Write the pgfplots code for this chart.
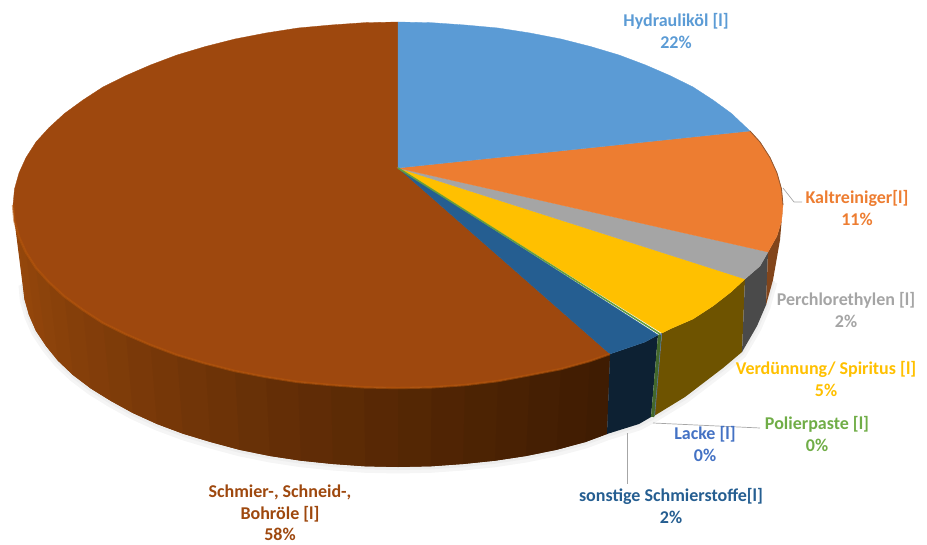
\documentclass[border=0pt]{standalone}
\usepackage{fontspec}
\setmainfont{Carlito}
\usepackage{pgfplots}
\pgfplotsset{compat=1.18}
\usepackage{pgfplotstable}

\definecolor{cblue}{HTML}{5B9BD5}
\definecolor{corange}{HTML}{ED7D31}
\definecolor{cgray}{HTML}{A5A5A5}
\definecolor{cyellow}{HTML}{FFC000}
\definecolor{cgreen}{HTML}{70AD47}
\definecolor{clacke}{HTML}{4472C4}
\definecolor{cdblue}{HTML}{255E91}
\definecolor{cbrown}{HTML}{9E480E}
\definecolor{rimdark}{HTML}{3F1C02}
\definecolor{rimlight}{HTML}{97480C}
\definecolor{leader}{HTML}{A6A6A6}

% rim piece: top and bottom points, painted left to right so each one overlaps the one before
\newcommand{\rimq}[7]{\addplot[fill=rimlight!#7!rimdark,draw=none] coordinates {(#1)(#2)(#3)(#5)(#6)(#4)} --cycle;}
\newcommand{\lab}[3]{\node[font=\fontsize{18}{21.5}\selectfont\bfseries,text=#1,align=center] at (axis cs:#2) {#3};}

% lower edge of the pie, for the shadow
\pgfplotstableread{
x y
23 283
24.4 299
29 315
35.8 330.6
46 346
58 360.8
73 375
90.8 388.5
111 401
132.8 413
157 424
183 433.7
210.5 442
239.5 449.8
270 456
301 460.7
333 464
365.3 466.3
398 467
430.7 466.3
463 464
495 460.7
526 456
556.5 449.8
585.5 442
607 434
639 424
654 416
685 397
723 368
742 352
757 326
766 305
773 280
}\lowedge

\begin{document}
\begin{tikzpicture}
\begin{axis}[
    scale only axis,
    width=927pt, height=545pt,
    xmin=0, xmax=927,
    ymin=0, ymax=545,
    y dir=reverse,
    hide axis,
    clip=false,
]
\path[use as bounding box] (axis cs:0,0) rectangle (axis cs:927,545);

% shadow
\addplot[draw=black!4,line width=9pt,forget plot] table[x=x,y expr=\thisrow{y}+2] {\lowedge};
\addplot[draw=black!7,line width=4pt,forget plot] table[x=x,y expr=\thisrow{y}+1] {\lowedge};

% rim of the brown piece
\rimq{13,205}{23,283}{24.4,299}{14.5,221}{29,315}{19,237}{100}
\rimq{14.5,221}{24.4,299}{29,315}{19,237}{35.8,330.6}{26,252.4}{98}
\rimq{19,237}{29,315}{35.8,330.6}{26,252.4}{46,346}{36,268}{95}
\rimq{26,252.4}{35.8,330.6}{46,346}{36,268}{58,360.8}{49,282.3}{92}
\rimq{36,268}{46,346}{58,360.8}{49,282.3}{73,375}{64.5,296.5}{88}
\rimq{49,282.3}{58,360.8}{73,375}{64.5,296.5}{90.8,388.5}{83,310}{84}
\rimq{64.5,296.5}{73,375}{90.8,388.5}{83,310}{111,401}{103,323}{80}
\rimq{83,310}{90.8,388.5}{111,401}{103,323}{132.8,413}{126,334.4}{76}
\rimq{103,323}{111,401}{132.8,413}{126,334.4}{157,424}{150.5,345}{72}
\rimq{126,334.4}{132.8,413}{157,424}{150.5,345}{183,433.7}{177,355}{67}
\rimq{150.5,345}{157,424}{183,433.7}{177,355}{210.5,442}{205.5,363.5}{62}
\rimq{177,355}{183,433.7}{210.5,442}{205.5,363.5}{239.5,449.8}{235,371}{57}
\rimq{205.5,363.5}{210.5,442}{239.5,449.8}{235,371}{270,456}{266,377}{52}
\rimq{235,371}{239.5,449.8}{270,456}{266,377}{301,460.7}{298,382}{47}
\rimq{266,377}{270,456}{301,460.7}{298,382}{333,464}{331,385}{42}
\rimq{298,382}{301,460.7}{333,464}{331,385}{365.3,466.3}{364,387.3}{37}
\rimq{331,385}{333,464}{365.3,466.3}{364,387.3}{398,467}{398,388}{33}
\rimq{364,387.3}{365.3,466.3}{398,467}{398,388}{430.7,466.3}{431.6,387.3}{28}
\rimq{398,388}{398,467}{430.7,466.3}{431.6,387.3}{463,464}{465,385}{24}
\rimq{431.6,387.3}{430.7,466.3}{463,464}{465,385}{495,460.7}{498,381}{19}
\rimq{465,385}{463,464}{495,460.7}{498,381}{526,456}{530,375}{15}
\rimq{498,381}{495,460.7}{526,456}{530,375}{556.5,449.8}{561,369}{11}
\rimq{530,375}{526,456}{556.5,449.8}{561,369}{585.5,442}{590,361}{7}
\rimq{561,369}{556.5,449.8}{585.5,442}{590,361}{607,434}{610,354}{3}
\addplot[fill=rimdark,draw=none] coordinates {(590,361)(585.5,442)(607,434)(610,354)} --cycle;

% rim of the other pieces
\addplot[fill=black!65!cdblue,draw=none] coordinates {(658,335)(645,342)(610,354)(607,434)(639,424)(651,417)} --cycle;
\addplot[fill=cgreen!60!black,draw=none] coordinates {(662,333)(658,335)(651,417)(654,416)} --cycle;
\addplot[fill=black!57!cyellow,draw=none] coordinates {(745,279)(731,292)(713,306)(693,319)(670,329)(662,333)(654,416)(685,397)(723,368)(742,352)} --cycle;
\addplot[fill=clacke!55!gray,draw=none] coordinates {(662,333)(660,334)(653,416)(655,415)} --cycle;
\addplot[fill=cgray!45!black,draw=none] coordinates {(768,252)(760,266)(745,279)(742,352)(757,326)(766,305)} --cycle;
\addplot[fill=corange!55!black,draw=none] coordinates {(783,205)(781.5,221)(777,236)(768,252)(766,305)(773,280)(780,240)} --cycle;

% top of the pie
\addplot[fill=cbrown,draw=cbrown,line width=0.3pt] coordinates {(398,168)(610,354)(590,361)(561,369)(530,375)(498,381)(465,385)(431.6,387.3)(398,388)(364,387.3)(331,385)(298,382)(266,377)(235,371)(205.5,363.5)(177,355)(150.5,345)(126,334.4)(103,323)(83,310)(64.5,296.5)(49,282.3)(36,268)(26,252.4)(19,237)(14.5,221)(13,205)(14.5,189)(19,173)(26,157.6)(36,142)(49,127.7)(64.5,113.5)(83,100)(103,87)(126,75.6)(150.5,65)(177,55)(205.5,46.5)(235,39)(266,33)(298,28)(331,25)(364,22.7)(398,22)} --cycle;
\addplot[fill=cdblue,draw=cdblue,line width=0.3pt] coordinates {(398,168)(658,335)(645,342)(610,354)} --cycle;
\addplot[fill=cyellow,draw=cyellow,line width=0.3pt] coordinates {(398,168)(745,279)(731,292)(713,306)(693,319)(670,329)(662,333)} --cycle;
\addplot[fill=cgray,draw=cgray,line width=0.3pt] coordinates {(398,168)(768,252)(760,266)(745,279)} --cycle;
\addplot[fill=corange,draw=corange,line width=0.3pt] coordinates {(398,168)(750,131)(760,142)(770,157.6)(777,173)(781.5,189)(783,205)(781.5,221)(777,236)(768,252)} --cycle;
\addplot[fill=cblue,draw=cblue,line width=0.3pt] coordinates {(398,168)(398,22)(431.6,22.7)(465,25)(498,28)(530,33)(561,39)(590.5,46.5)(619,55)(645.5,65)(670,75.6)(693,87)(713,100)(731.5,113.5)(750,131)} --cycle;
\addplot[draw=cgreen!90!black,line width=1.6pt] coordinates {(398,168)(660,334)};
\addplot[draw=cgreen!60!black,line width=2.4pt] coordinates {(660,335)(653,417)};

% bevel along the edge
\addplot[draw=cbrown!75!orange,line width=2.4pt,opacity=0.55] coordinates {(13,205)(14.5,221)(19,237)(26,252.4)(36,268)(49,282.3)(64.5,296.5)(83,310)(103,323)(126,334.4)(150.5,345)(177,355)(205.5,363.5)(235,371)(266,377)(298,382)(331,385)(364,387.3)(398,388)(431.6,387.3)(465,385)(498,381)(530,375)(561,369)(590,361)(610,354)};
\addplot[draw=corange!55!black!90!white,line width=0.8pt] coordinates {(750,131)(760,142)(770,157.6)(777,173)(781.5,189)(783,205)};

% leader lines
\addplot[draw=leader,line width=0.7pt] coordinates {(783,188)(794,202)(802,202)};
\addplot[draw=leader,line width=0.7pt] coordinates {(653,423)(760,428)};
\addplot[draw=leader,line width=0.7pt] coordinates {(627,433)(627,484)};

% labels
\lab{cblue}{676,31}{Hydrauliköl [l]\\22\%}
\lab{corange}{857,208}{Kaltreiniger[l]\\11\%}
\lab{cgray}{846,310}{Perchlorethylen [l]\\2\%}
\lab{cyellow}{826,379}{Verdünnung/ Spiritus [l]\\5\%}
\lab{cgreen}{817,434}{Polierpaste [l]\\0\%}
\lab{clacke}{705,444}{Lacke [l]\\0\%}
\lab{cdblue}{671,506}{sonstige Schmierstoffe[l]\\2\%}
\lab{cbrown}{280,513}{Schmier-, Schneid-,\\Bohröle [l]\\58\%}
\end{axis}
\end{tikzpicture}
\end{document}
